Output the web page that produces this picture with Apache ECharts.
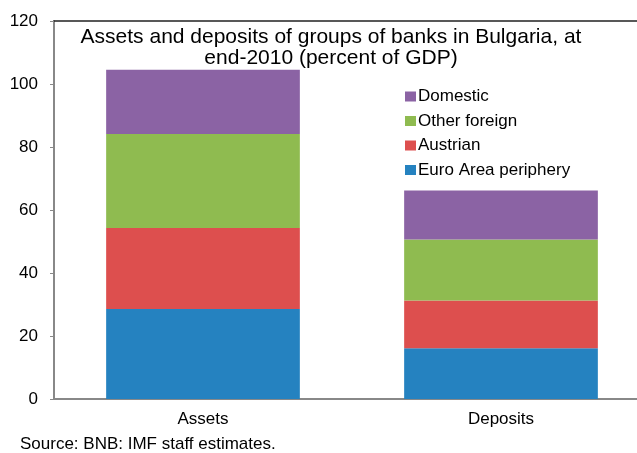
<!DOCTYPE html>
<html>
<head>
<meta charset="utf-8">
<script src="https://cdn.jsdelivr.net/npm/echarts@6/dist/echarts.min.js"></script>
<style>
  html, body { margin: 0; padding: 0; background: #fff; }
  #chart { width: 637px; height: 453px; }
</style>
</head>
<body>
<div id="chart"></div>
<script>
// Bank groups' assets and deposits, end-2010, percent of GDP
const categories = ['Assets', 'Deposits'];
const euroAreaPeriphery = [28.6, 16.1];
const austrian = [25.7, 15.2];
const otherForeign = [29.8, 19.3];
const domestic = [20.4, 15.6];
const yTicks = [0, 20, 40, 60, 80, 100, 120];

const FONT = '"Liberation Sans", Arial, sans-serif';
const chart = echarts.init(document.getElementById('chart'), null, { renderer: 'canvas' });

function stackSeries(name, data, color) {
  return {
    name: name,
    type: 'bar',
    stack: 'total',
    data: data,
    barWidth: '65%',
    itemStyle: { color: color },
    emphasis: { disabled: true }
  };
}

chart.setOption({
  animation: false,
  textStyle: { fontFamily: FONT },
  title: {
    text: 'Assets and deposits of groups of banks in Bulgaria, at\nend-2010 (percent of GDP)',
    left: 331,
    top: 27,
    textAlign: 'center',
    padding: 0,
    textStyle: { fontFamily: FONT, fontSize: 21, fontWeight: 'normal', color: '#000', lineHeight: 21 }
  },
  legend: {
    orient: 'vertical',
    left: 400,
    top: 83,
    itemWidth: 11,
    itemHeight: 10,
    itemGap: 7.5,
    icon: 'rect',
    data: ['Domestic', 'Other foreign', 'Austrian', 'Euro Area periphery'],
    textStyle: { fontFamily: FONT, fontSize: 17, color: '#000', padding: [0, 0, 0, -3] }
  },
  grid: { left: 54, top: 21, width: 596, bottom: 54, containLabel: false, outerBoundsMode: 'none' },
  xAxis: [
    {
      type: 'category',
      data: categories,
      axisLine: { lineStyle: { color: '#888', width: 2 } },
      axisTick: { show: false },
      axisLabel: { fontFamily: FONT, fontSize: 17, color: '#000', margin: 12 }
    },
    {
      type: 'category',
      position: 'top',
      data: categories,
      axisLine: { lineStyle: { color: '#222', width: 1.5 } },
      axisTick: { show: false },
      axisLabel: { show: false }
    }
  ],
  yAxis: {
    type: 'value',
    min: yTicks[0],
    max: yTicks[yTicks.length - 1],
    interval: 20,
    axisLine: { show: true, lineStyle: { color: '#888', width: 2 } },
    axisTick: { show: true, inside: false, length: 4, lineStyle: { color: '#888', width: 1 } },
    splitLine: { show: false },
    axisLabel: { fontFamily: FONT, fontSize: 17, color: '#000', margin: 16 }
  },
  series: [
    stackSeries('Euro Area periphery', euroAreaPeriphery, '#2582c0'),
    stackSeries('Austrian', austrian, '#dd4f4e'),
    stackSeries('Other foreign', otherForeign, '#8fbb50'),
    stackSeries('Domestic', domestic, '#8b63a4')
  ],
  graphic: [{
    type: 'text',
    left: 20,
    top: 436,
    style: { text: 'Source: BNB: IMF staff estimates.', font: '17px ' + FONT, fill: '#000' }
  }]
});
</script>
</body>
</html>
